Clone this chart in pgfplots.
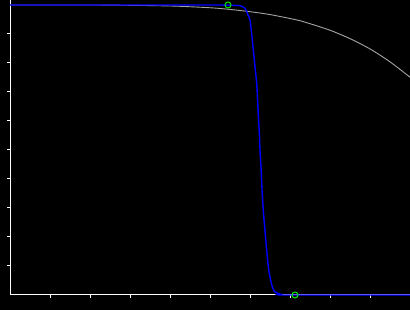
\documentclass[border=0pt]{standalone}
\usepackage{pgfplots}
\pgfplotsset{compat=1.18}
\definecolor{bgc}{RGB}{0,0,0}
\definecolor{grayc}{RGB}{165,165,165}
\definecolor{bluec}{RGB}{0,0,255}
\definecolor{greenc}{RGB}{0,230,0}
\begin{document}
\begin{tikzpicture}[x=1pt,y=1pt]
\fill[bgc] (0,0) rectangle (410,310);
\begin{axis}[
  at={(10pt,15pt)}, anchor=origin,
  scale only axis, width=400pt, height=295pt,
  xmin=0, xmax=10, ymin=0, ymax=1.01724,
  axis lines=left,
  axis line style={white, line width=1pt, -},
  xtick={1,2,3,4,5,6,7,8,9},
  ytick={0.1,0.2,0.3,0.4,0.5,0.6,0.7,0.8,0.9},
  xticklabels={}, yticklabels={},
  tick align=outside,
  major tick length=3pt,
  tick style={white, line width=1pt},
  clip=false,
]
\addplot[grayc, line width=0.9pt, smooth] coordinates {
(0,1.0) (1.8,1.0) (2.75,0.9993) (4.0,0.9966) (4.8,0.992) (5.25,0.988)
(5.875,0.979) (6.5,0.967) (7.25,0.946) (7.5,0.9355) (8.0,0.913)
(8.5,0.884) (9.0,0.8485) (9.5,0.804) (10,0.751)
};
\addplot[bluec, line width=1.4pt, smooth, tension=0.4] coordinates {
(0,1.0) (4.75,1.0) (5.25,1.0) (5.5,0.999) (5.75,0.9976) (5.875,0.9886)
(5.95,0.9655) (6.0,0.948) (6.04,0.903) (6.083,0.845) (6.125,0.786)
(6.167,0.731) (6.19,0.672) (6.21,0.614) (6.233,0.559) (6.25,0.5)
(6.275,0.441) (6.292,0.386) (6.315,0.328) (6.345,0.269) (6.38,0.214)
(6.417,0.155) (6.458,0.0966) (6.5,0.062) (6.558,0.0276) (6.625,0.0103)
(6.75,0.0034) (6.875,0) (10,0)
};
\addplot[only marks, mark=o, mark size=3pt, mark options={draw=greenc, line width=1pt}] coordinates {
(5.45,1.0) (7.125,0)
};
\end{axis}
\pgfresetboundingbox
\path (0,0) rectangle (410,310);
\end{tikzpicture}
\end{document}
